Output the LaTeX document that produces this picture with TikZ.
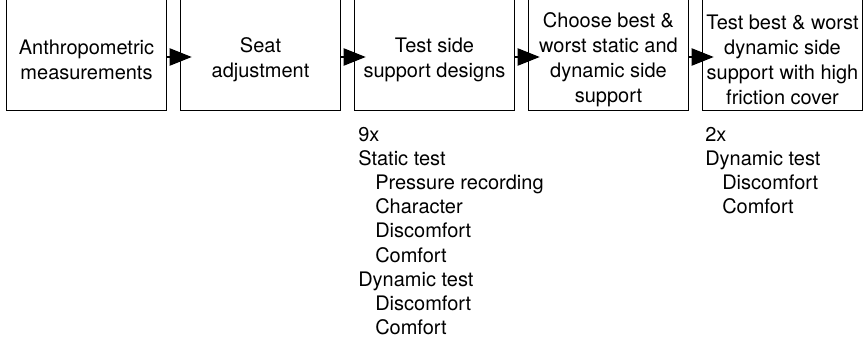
\documentclass[tikz,border=0pt]{standalone}
\usepackage{fontspec}
\setmainfont{TeX Gyre Heros}
\usepackage{tikz}
\usetikzlibrary{arrows.meta,positioning}

\tikzset{
  stage/.style={minimum width=119.25pt,minimum height=75pt,inner sep=0pt,align=center,
    font=\fontsize{15}{18.75}\selectfont},
  tasks/.style={anchor=north west,inner sep=0pt,align=left,font=\fontsize{15}{18.1}\selectfont},
  flow/.style={line width=1.5pt,-{Triangle[length=16.5pt,width=12.75pt]},shorten >=-8.25pt}
}
\newcommand{\subitemgap}{\hspace*{12.75pt}}

\begin{document}
\begin{tikzpicture}[x=0.75pt,y=0.75pt]
  \useasboundingbox (0,0) rectangle (866,342);
  \clip (0,0) rectangle (866,342);
  % stages
  \node[stage] (anthro)   at (86.5,282)  {Anthropometric\\measurements};
  \node[stage] (seat)     at (260.5,282) {Seat\\adjustment};
  \node[stage] (sides)    at (434.5,282) {Test side\\support designs};
  \node[stage] (choose)   at (608.5,282) {Choose best \&\\worst static and\\dynamic side\\support};
  \node[stage] (friction) at (782.5,282) {Test best \& worst\\dynamic side\\support with high\\friction cover};
  \foreach \n in {anthro,seat,sides,choose,friction}
    \draw[line width=1pt] ([yshift=30pt]\n.north west) -- (\n.south west)
      -- (\n.south east) -- ([yshift=30pt]\n.north east);
  \foreach \a/\b in {anthro/seat,seat/sides,sides/choose,choose/friction}
    \draw[flow] ([yshift=2.25pt]\a.east) -- ([yshift=2.25pt]\b.west);
  % tests below
  \node[tasks] (sidetests) at (358,215) {9x\\Static test\\\subitemgap Pressure recording\\
    \subitemgap Character\\\subitemgap Discomfort\\\subitemgap Comfort\\Dynamic test\\
    \subitemgap Discomfort\\\subitemgap Comfort};
  \node[tasks] (frictiontests) at (705,215) {2x\\Dynamic test\\\subitemgap Discomfort\\
    \subitemgap Comfort};
\end{tikzpicture}
\end{document}
